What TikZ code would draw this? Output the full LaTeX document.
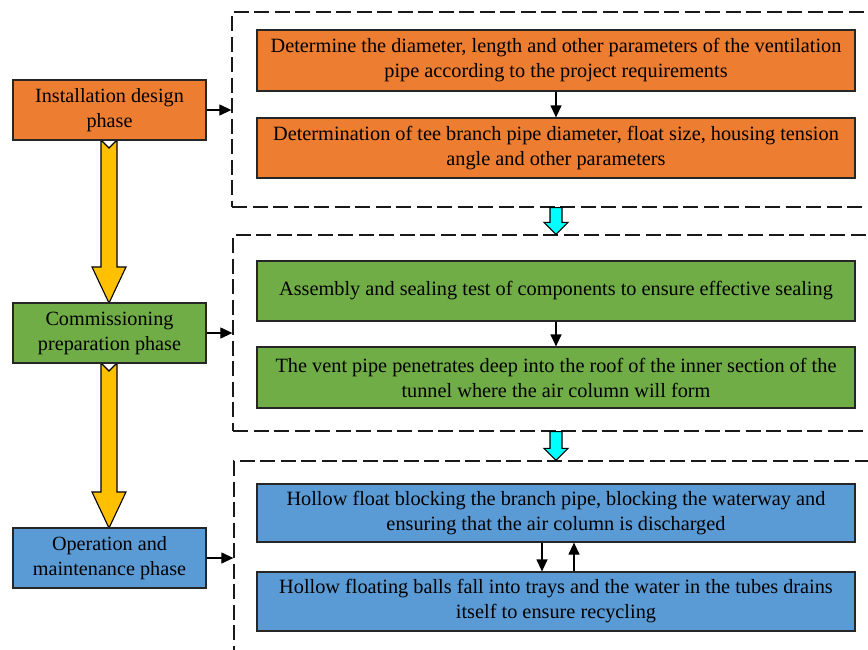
\documentclass[tikz,border=0pt]{standalone}
\usepackage{fontspec}
\setmainfont{Liberation Serif}
\usetikzlibrary{calc,arrows.meta}
\definecolor{orng}{HTML}{ED7D31}
\definecolor{grn}{HTML}{70AD47}
\definecolor{blu}{HTML}{5B9BD5}
\definecolor{yel}{HTML}{FFC000}
\definecolor{cyn}{HTML}{00FFFF}
\tikzset{
  phase/.style={draw=black!85, line width=1.2pt, minimum width=193pt, minimum height=60pt, inner sep=0pt, align=center, font=\fontsize{20.2}{25}\selectfont},
  task/.style={draw=black!85, line width=1.2pt, minimum width=598pt, inner sep=0pt, align=center, font=\fontsize{20.3}{25}\selectfont},
  dashbox/.style={draw=black!90, line width=1.3pt, dash pattern=on 15pt off 5.5pt, minimum width=700pt, inner sep=0pt},
  link/.style={-{Triangle[length=12pt,width=11pt]}, line width=1.2pt, black},
  bigarrow/.style={draw=black, line width=1.1pt, line join=miter},
}
\begin{document}
\begin{tikzpicture}[x=1pt,y=-1pt]
\useasboundingbox (0,0) rectangle (868,649);
\clip (0,0) rectangle (868,649);
% dashed group boxes
\node[dashbox, minimum height=195pt] (g1) at (582,109.5) {};
\node[dashbox, minimum height=196pt] (g2) at (583,333) {};
\node[dashbox, minimum height=240pt] (g3) at (584,581) {};
% yellow arrows (drawn first)
\coordinate (y1t) at (109,140);
\coordinate (y1b) at (109,303);
\coordinate (y2t) at (109,363);
\coordinate (y2b) at (109,528);
\foreach \t/\b in {y1t/y1b, y2t/y2b}{
  \path[bigarrow, fill=yel] ($(\t)+(-8,0)$) -- ($(\t)+(0,8)$) -- ($(\t)+(8,0)$) -- ($(\b)+(8,-36)$) -- ($(\b)+(17,-36)$) -- (\b) -- ($(\b)+(-17,-36)$) -- ($(\b)+(-8,-36)$) -- cycle;
}
% phase boxes
\node[phase, fill=orng] (p1) at (109.5,110) {Installation design\\phase};
\node[phase, fill=grn] (p2) at (109.5,333) {Commissioning\\preparation phase};
\node[phase, fill=blu] (p3) at (109.5,558) {Operation and\\maintenance phase};
% task boxes
\node[task, fill=orng, minimum height=61pt] (o1) at (556,60.5) {Determine the diameter, length and other parameters of the ventilation\\pipe according to the project requirements};
\node[task, fill=orng, minimum height=60pt] (o2) at (556,148) {Determination of tee branch pipe diameter, float size, housing tension\\angle and other parameters};
\node[task, fill=grn, minimum height=60pt] (gA) at (556,291) {Assembly and sealing test of components to ensure effective sealing};
\node[task, fill=grn, minimum height=61pt] (gB) at (556,377.5) {The vent pipe penetrates deep into the roof of the inner section of the\\tunnel where the air column will form};
\node[task, fill=blu, minimum height=58pt] (bA) at (556,513) {Hollow float blocking the branch pipe, blocking the waterway and\\ensuring that the air column is discharged};
\node[task, fill=blu, minimum height=59pt] (bB) at (556,601.5) {Hollow floating balls fall into trays and the water in the tubes drains\\itself to ensure recycling};
% links phase -> group
\draw[link] (p1.east) -- (p1.east -| g1.west);
\draw[link] (p2.east) -- (p2.east -| g2.west);
\draw[link] (p3.east) -- (p3.east -| g3.west);
% links between tasks
\draw[link] (o1.south) -- (o2.north);
\draw[link] (gA.south) -- (gB.north);
\draw[link] ($(bA.south)+(-14,0)$) -- ($(bB.north)+(-14,0)$);
\draw[link] ($(bB.north)+(18,0)$) -- ($(bA.south)+(18,0)$);
% cyan arrows between groups
\foreach \a/\b in {g1/g2, g2/g3}{
  \coordinate (ct) at (\a.south -| o1.south);
  \coordinate (cb) at (\b.north -| o1.south);
  \path[bigarrow, fill=cyn] ($(ct)+(-6,0)$) -- ($(ct)+(6,0)$) -- ($(cb)+(6,-12)$) -- ($(cb)+(12,-12)$) -- (cb) -- ($(cb)+(-12,-12)$) -- ($(cb)+(-6,-12)$) -- cycle;
}
\end{tikzpicture}
\end{document}
